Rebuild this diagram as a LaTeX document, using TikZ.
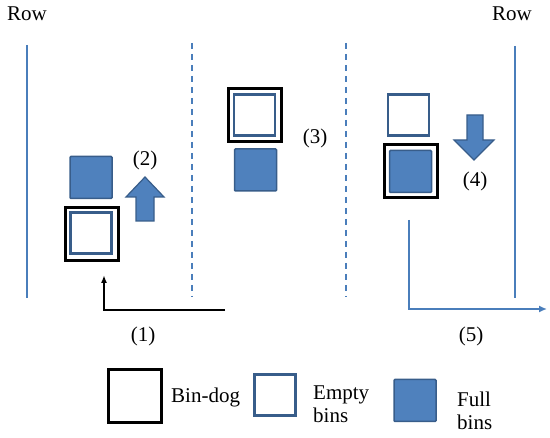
\documentclass[tikz,border=0pt]{standalone}
\usepackage{fontspec}
\setmainfont{Liberation Serif}
\usepackage{xcolor}
\usepackage{tikz}
\usetikzlibrary{arrows.meta}

\definecolor{binblue}{HTML}{4F81BD}
\definecolor{bindark}{HTML}{385D8A}
\definecolor{rowblue}{HTML}{4A7EBB}

\tikzset{
  fullbin/.style={draw=bindark, line width=1.5pt, fill=binblue, minimum size=42pt, inner sep=0pt, rounded corners=1pt},
  emptybin/.style={draw=bindark, line width=2.3pt, fill=white, minimum size=41pt, inner sep=0pt},
  bindog/.style={draw=black, line width=3pt, minimum size=53pt, inner sep=0pt},
  lbl/.style={inner sep=0pt, font=\fontsize{21}{23}\selectfont},
  rowline/.style={draw=rowblue, line width=2pt},
  aisle/.style={draw=rowblue, line width=2pt, dash pattern=on 6pt off 5pt},
  blockarrow/.style={draw=bindark, line width=1.2pt, fill=binblue}
}

\begin{document}
\begin{tikzpicture}[x=1pt, y=-1pt]
  \useasboundingbox (0,0) rectangle (550,438);

  % rows and aisles
  \draw[rowline] (27,45) -- (27,298);
  \draw[rowline] (515,46) -- (515,298);
  \draw[aisle] (192,43) -- (192,297);
  \draw[aisle] (346,43) -- (346,297);
  \node (rowL) [lbl, anchor=base west] at (7,21) {Row};
  \node (rowR) [lbl, anchor=base west] at (492,21) {Row};

  % left aisle
  \node (fullA) [fullbin] at (91,177.5) {};
  \node (dogA) [bindog] at (91.5,234) {};
  \node (emptyA) [emptybin] at (91,233) {};
  \draw[blockarrow]
    (136,221) -- (136,197) -- (126,197) -- (145,177) -- (164,197)
    -- (154,197) -- (154,221) -- cycle;
  \node (stepB) [lbl, anchor=base] at (145,166) {(2)};

  % middle aisle
  \node (dogB) [bindog] at (254.5,115) {};
  \node (emptyB) [emptybin] at (254.5,115) {};
  \node (fullB) [fullbin] at (255.5,170) {};
  \node (stepC) [lbl, anchor=base] at (315,144) {(3)};

  % right aisle
  \node (emptyC) [emptybin] at (408.5,115) {};
  \node (dogC) [bindog] at (410.5,171.5) {};
  \node (fullC) [fullbin] at (410.5,171.5) {};
  \draw[blockarrow]
    (467,115) -- (483,115) -- (483,140) -- (494,140) -- (474,160)
    -- (454,140) -- (467,140) -- cycle;
  \node (stepD) [lbl, anchor=base] at (475,187) {(4)};

  % moves
  \coordinate (inA) at (225,310);
  \coordinate (inB) at (104,310);
  \coordinate (inC) at (104,275);
  \draw[line width=2pt, -{Latex[length=8pt,width=6pt]}] (inA) -- (inB) -- (inC);
  \node (stepA) [lbl, anchor=base] at (143,342) {(1)};

  \coordinate (outA) at (409,220);
  \coordinate (outB) at (409,309);
  \coordinate (outC) at (547,309);
  \draw[rowblue, line width=1.5pt, -{Latex[length=8pt,width=7pt]}] (outA) -- (outB) -- (outC);
  \node (stepE) [lbl, anchor=base] at (471,342) {(5)};

  % legend
  \node (keyDog) [bindog] at (134.5,396) {};
  \node (keyDogT) [lbl, anchor=base west] at (171,403) {Bin-dog};
  \node (keyEmpty) [emptybin] at (275,395) {};
  \node (keyEmptyT) [lbl, anchor=base west, align=left] at (313,423) {Empty\\bins};
  \node (keyFull) [fullbin] at (415,400.5) {};
  \node (keyFullT) [lbl, anchor=base west, align=left] at (457,430) {Full\\bins};
\end{tikzpicture}
\end{document}
